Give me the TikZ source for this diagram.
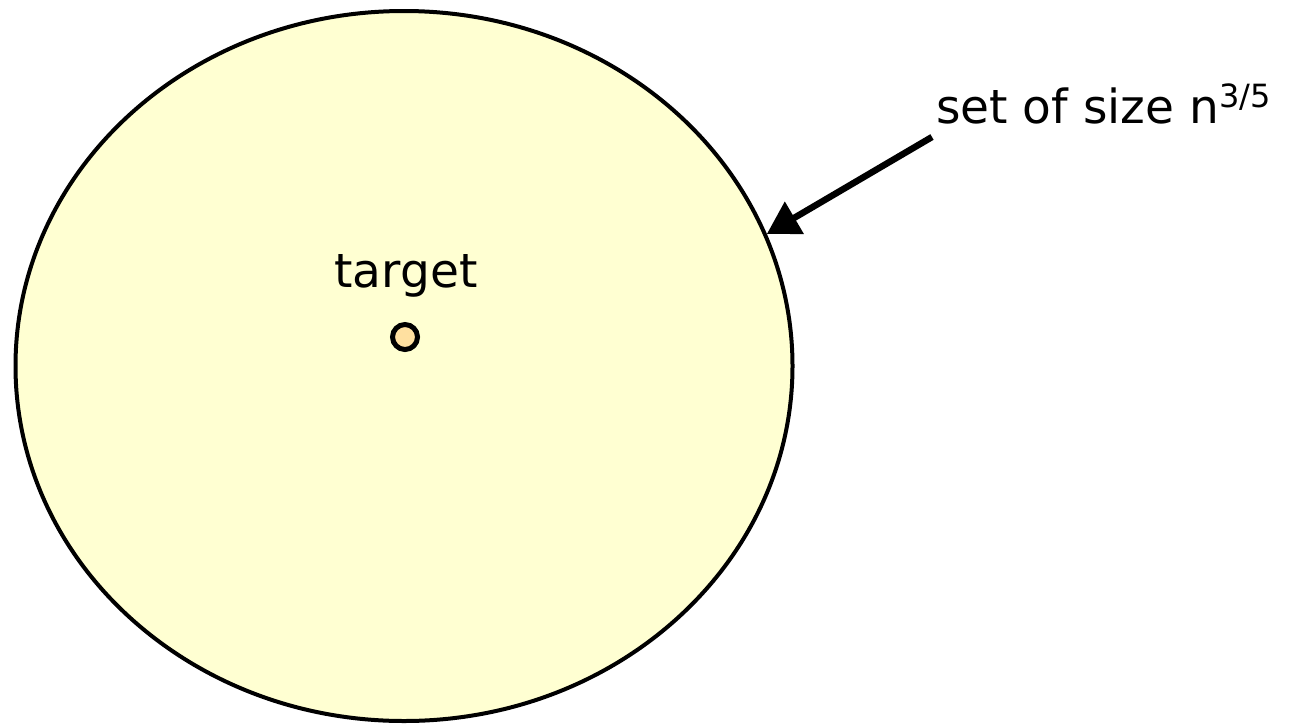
\documentclass[tikz,border=0pt]{standalone}
\usepackage{fontspec}
\setmainfont{DejaVu Sans}
\usetikzlibrary{arrows.meta,shapes.geometric}
\definecolor{setfill}{HTML}{FFFFD2}
\definecolor{dotfill}{HTML}{FFE0A0}
\begin{document}
\begin{tikzpicture}[x=1pt,y=-1pt,
  lbl/.style={inner sep=0pt,font=\fontsize{47}{56}\selectfont},
  setshape/.style={ellipse,draw=black,line width=4pt,fill=setfill,inner sep=0pt},
  pointer/.style={line width=6.5pt,-{Triangle[length=32pt,width=36pt]}}]
\useasboundingbox (0,0) rectangle (1313,726);
\node[setshape,minimum width=777pt,minimum height=710pt] (ell) at (404,366) {};
\node[draw=black,line width=5pt,fill=dotfill,circle,minimum size=25pt,inner sep=0pt] (dot) at (405,337) {};
\node[lbl,anchor=base] (tgt) at (406,287) {target};
\node[lbl,anchor=base west] (lab) at (936,123) {set of size n\raisebox{16pt}{\fontsize{32}{32}\selectfont 3/5}};
\coordinate (start) at (932,137);
\draw[pointer] (start) -- (ell.20);
\end{tikzpicture}
\end{document}
